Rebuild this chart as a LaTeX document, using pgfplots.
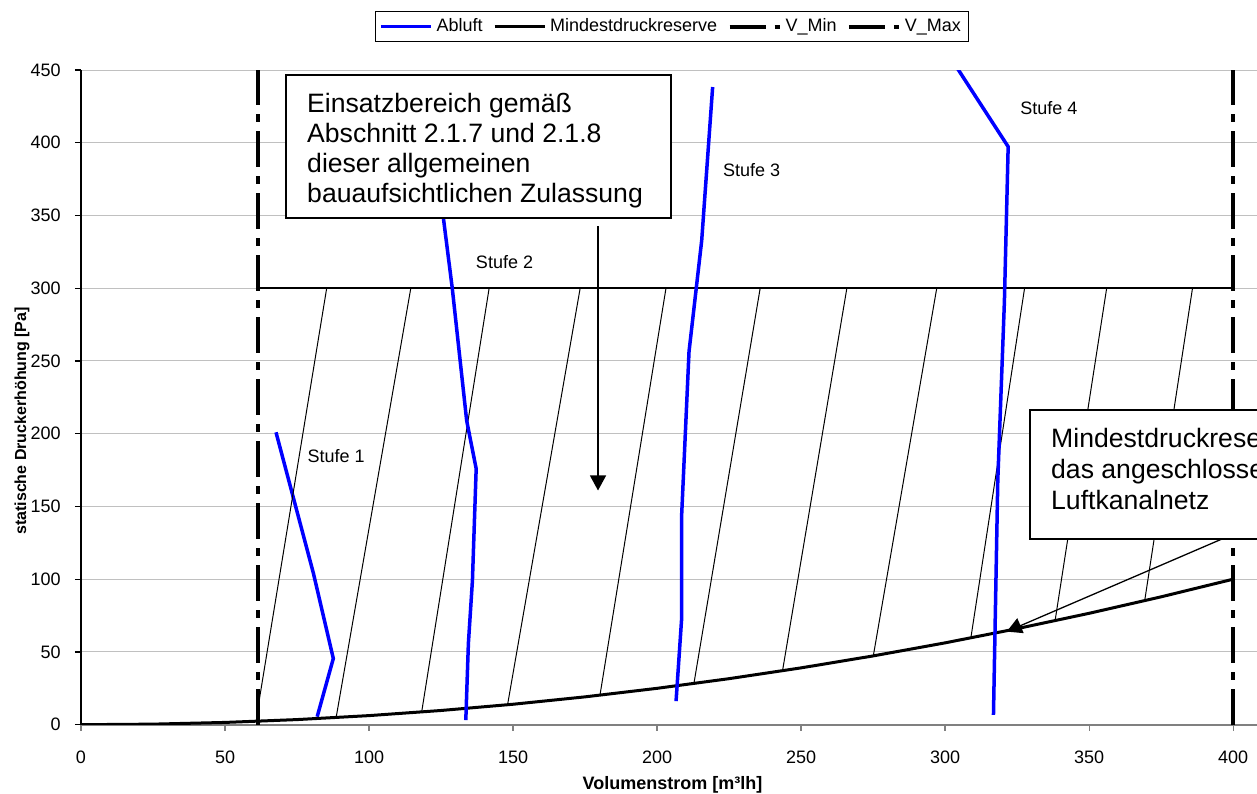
\documentclass[border=0pt]{standalone}
\usepackage{fontspec}
\setmainfont{Liberation Sans}
\usepackage{pgfplots}
\pgfplotsset{compat=1.18}
\usetikzlibrary{arrows.meta}
\definecolor{gridgray}{RGB}{192,192,192}
\definecolor{axgray}{RGB}{128,128,128}
\definecolor{ablue}{RGB}{0,0,255}
\begin{document}
\begin{tikzpicture}
\begin{axis}[
  at={(0pt,0pt)}, anchor=south west, scale only axis,
  width=588pt, height=327.35pt,
  xmin=0, xmax=408.3, ymin=0, ymax=450,
  axis x line*=bottom, axis y line*=left, separate axis lines,
  axis line style={-},
  x axis line style={-, draw=axgray, line width=1pt},
  y axis line style={-, draw=black, line width=0.6pt},
  xtick={0,50,...,400}, ytick={0,50,...,450},
  tick align=outside, major tick length=3pt,
  x tick style={axgray, line width=0.6pt},
  y tick style={black, line width=0.6pt},
  ymajorgrids, grid style={gridgray, line width=0.5pt},
  /pgf/number format/assume math mode=true,
  ticklabel style={font=\fontsize{9}{10}\selectfont},
  xticklabel style={anchor=center, inner sep=0pt, yshift=-13.5pt},
  yticklabel style={anchor=east, inner sep=0pt, xshift=-7pt},
  xlabel={Volumenstrom [m³lh]},
  ylabel={statische Druckerhöhung [Pa]},
  xlabel style={at={(axis description cs:0.503,0)}, anchor=center, yshift=-30.15pt, font=\fontsize{9}{10}\selectfont\bfseries},
  ylabel style={at={(axis description cs:0,0.464)}, anchor=center, yshift=29.5pt, font=\fontsize{8}{9}\selectfont\bfseries},
  unbounded coords=jump,
  legend columns=-1,
  legend cell align=left,
  legend style={at={(axis description cs:0.5026,1.0664)}, anchor=center, draw=black, line width=0.5pt,
    font=\fontsize{9}{10}\selectfont, inner xsep=2pt, inner ysep=1.5pt,
    /tikz/every even column/.append style={column sep=3.2pt}},
  legend image code/.code={\draw[#1] (0pt,0pt) -- (25pt,0pt);},
]
% Abluft Stufe 1 (legend entry)
\addplot[ablue, line width=1.75pt] coordinates {(67.7,201) (80.7,104) (87.6,45.5) (82.0,5.5)};
\addlegendentry{Abluft}
% Mindestdruckreserve
\addplot[black, line width=1.5pt] coordinates {
(0,0) (25,0.39) (50,1.56) (75,3.52) (100,6.25) (125,9.77) (150,14.06) (175,19.14) (200,25)
(225,31.64) (250,39.06) (275,47.27) (300,56.25) (325,66.02) (350,76.56) (375,87.89) (400,100)};
\addlegendentry{Mindestdruckreserve}
% V_Min
\addplot[black, line width=2pt, dash pattern=on 18pt off 4.5pt on 4pt off 4.5pt] coordinates {(61.5,0) (61.5,450)};
\addlegendentry{V\_Min}
% V_Max
\addplot[black, line width=2pt, dash pattern=on 18pt off 4.5pt on 4pt off 4.5pt] coordinates {(400,0) (400,450)};
\addlegendentry{V\_Max}
% upper limit 300 Pa
\addplot[black, line width=1pt, forget plot] coordinates {(61.5,300) (400,300)};
% hatching
\addplot[black, line width=0.5pt, forget plot] coordinates {
(85.3,300) (61.6,13.5) (0,nan)
(114.5,300) (88.5,4) (0,nan)
(141.7,300) (118.3,9) (0,nan)
(173.3,300) (148.1,13.7) (0,nan)
(203.1,300) (180.2,20.5) (0,nan)
(235.8,300) (212.8,28.3) (0,nan)
(265.9,300) (243.6,37.5) (0,nan)
(297.1,300) (275.1,47.5) (0,nan)
(327.6,300) (308.9,59) (0,nan)
(356.1,300) (338.2,71.6) (0,nan)
(385.9,300) (369.3,85.2)};
% Abluft Stufe 2,3,4
\addplot[ablue, line width=1.75pt, forget plot] coordinates {(121.5,420) (125.9,347) (128.9,300) (133.9,209) (137.2,176) (135.9,99) (134.5,56) (133.6,3.2)};
\addplot[ablue, line width=1.75pt, forget plot] coordinates {(219.3,438.3) (215.5,332.8) (211.1,256.5) (208.5,142.2) (208.5,71.9) (206.6,16.2)};
\addplot[ablue, line width=1.75pt, forget plot] coordinates {(298.1,470) (321.9,397.3) (320.6,291.1) (318.3,168) (316.8,6.7)};
% Stufe labels
\node[anchor=west, inner sep=0pt, font=\fontsize{9}{10}\selectfont] at (axis cs:78.5,184.9) {Stufe 1};
\node[anchor=west, inner sep=0pt, font=\fontsize{9}{10}\selectfont] at (axis cs:137,318) {Stufe 2};
\node[anchor=west, inner sep=0pt, font=\fontsize{9}{10}\selectfont] at (axis cs:222.8,381) {Stufe 3};
\node[anchor=west, inner sep=0pt, font=\fontsize{9}{10}\selectfont] at (axis cs:326,424) {Stufe 4};
% arrows
\draw[black, line width=0.65pt, -{Triangle[width=8pt,length=7.5pt]}] (axis cs:179.5,342.7) -- (axis cs:179.5,161);
\draw[black, line width=0.65pt, -{Triangle[width=8pt,length=7.5pt]}] (axis cs:405,135.2) -- (axis cs:321.4,64);
% boxes
\draw[black, line width=1pt, fill=white] (axis cs:71.1,348) rectangle (axis cs:204.8,446.8);
\node[anchor=north west, inner sep=0pt, align=left, font=\fontsize{13.3}{15}\selectfont] at (axis cs:78.4,434) {Einsatzbereich gemäß\\Abschnitt 2.1.7 und 2.1.8\\dieser allgemeinen\\bauaufsichtlichen Zulassung};
\draw[black, line width=1pt, fill=white] (axis cs:329.5,127.8) rectangle (axis cs:440,216.3);
\node[anchor=north west, inner sep=0pt, align=left, font=\fontsize{13.3}{15.5}\selectfont] at (axis cs:336.7,204.2) {Mindestdruckreserve für\\das angeschlossene\\Luftkanalnetz};
\end{axis}
\pgfresetboundingbox
\useasboundingbox (-40.5pt,-34.15pt) rectangle (588pt,362.35pt);
\end{tikzpicture}
\end{document}
